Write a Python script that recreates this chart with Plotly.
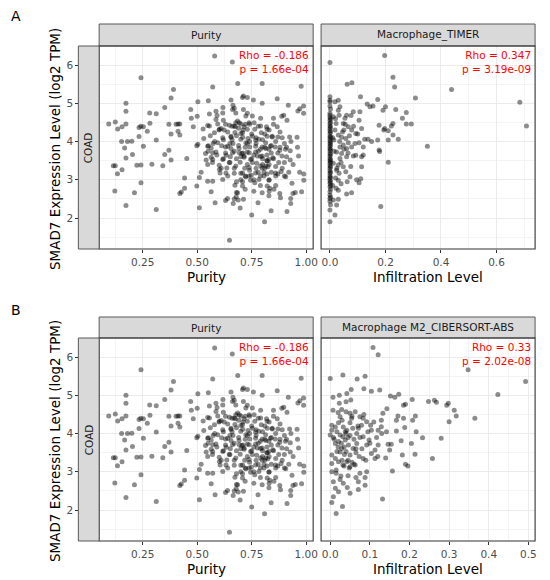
import plotly.graph_objects as go

# the page body has an 8px margin, so the figure is drawn 8px in from the window corner
OFF = 8
W, H = 550 - OFF, 580 - OFF

# ---- data (COAD, SMAD7 log2 TPM) ----
# purity panel (identical in A and B)
purity_x = [0.094, 0.124, 0.135, 0.155, 0.173, 0.173, 0.173, 0.153, 0.18, 0.2, 0.167, 0.203, 0.173,
            0.115, 0.124, 0.134, 0.155, 0.122, 0.173, 0.212, 0.223, 0.242, 0.242, 0.233, 0.233, 0.241,
            0.253, 0.253, 0.242, 0.271, 0.283, 0.282, 0.292, 0.312, 0.312, 0.312, 0.342, 0.351, 0.351,
            0.37, 0.37, 0.38, 0.391, 0.38, 0.38, 0.403, 0.412, 0.42, 0.412, 0.42, 0.42, 0.427, 0.442,
            0.442, 0.452, 0.47, 0.473, 0.482, 0.503, 0.5, 0.503, 0.498, 0.498, 0.51, 0.51, 0.518,
            0.548, 0.551, 0.556, 0.527, 0.53, 0.538, 0.541, 0.548, 0.551, 0.564, 0.579, 0.571, 0.58,
            0.586, 0.591, 0.594, 0.573, 0.564, 0.571, 0.586, 0.548, 0.564, 0.571, 0.582, 0.601, 0.605,
            0.612, 0.617, 0.61, 0.618, 0.62, 0.624, 0.63, 0.633, 0.636, 0.63, 0.639, 0.648, 0.661,
            0.655, 0.664, 0.67, 0.648, 0.655, 0.655, 0.652, 0.664, 0.673, 0.677, 0.685, 0.686, 0.675,
            0.67, 0.673, 0.679, 0.67, 0.68, 0.688, 0.665, 0.708, 0.712, 0.712, 0.7, 0.7, 0.709, 0.692,
            0.705, 0.715, 0.697, 0.718, 0.7, 0.723, 0.708, 0.697, 0.712, 0.715, 0.73, 0.73, 0.738,
            0.733, 0.741, 0.73, 0.745, 0.738, 0.748, 0.745, 0.75, 0.758, 0.753, 0.764, 0.768, 0.768,
            0.773, 0.764, 0.779, 0.791, 0.794, 0.798, 0.798, 0.791, 0.798, 0.806, 0.798, 0.809, 0.818,
            0.821, 0.815, 0.821, 0.824, 0.829, 0.833, 0.829, 0.839, 0.844, 0.847, 0.85, 0.858, 0.867,
            0.867, 0.87, 0.879, 0.879, 0.882, 0.885, 0.888, 0.897, 0.9, 0.906, 0.912, 0.912, 0.918,
            0.924, 0.927, 0.927, 0.929, 0.929, 0.935, 0.939, 0.958, 0.965, 0.962, 0.971, 0.977, 0.979,
            0.988, 0.988, 0.989, 0.989, 0.95,
            0.62, 0.63, 0.64, 0.65, 0.66, 0.67, 0.68, 0.69, 0.70, 0.71, 0.72, 0.72, 0.73, 0.74, 0.74,
            0.75, 0.76, 0.77, 0.77, 0.78, 0.78, 0.79, 0.80, 0.80, 0.81, 0.81, 0.82, 0.82, 0.83, 0.83,
            0.84, 0.84, 0.85, 0.86, 0.86, 0.87, 0.88, 0.89, 0.90, 0.91, 0.92, 0.93, 0.94, 0.96, 0.97,
            0.55, 0.56, 0.57, 0.58, 0.59, 0.60, 0.61, 0.62, 0.63, 0.64, 0.65, 0.66, 0.67, 0.68, 0.69,
            0.70, 0.71, 0.72, 0.73, 0.74, 0.75, 0.76, 0.77, 0.78, 0.79, 0.80, 0.81, 0.82, 0.83, 0.84,
            0.85, 0.86, 0.87, 0.88, 0.89, 0.90, 0.91, 0.79, 0.83, 0.72, 0.68, 0.76, 0.86,
            0.556, 0.586, 0.602, 0.548, 0.571, 0.594, 0.617, 0.640, 0.655, 0.670, 0.693, 0.708, 0.723,
            0.715, 0.738, 0.753, 0.768, 0.783, 0.798, 0.814, 0.829, 0.806, 0.783, 0.768, 0.738, 0.708,
            0.677, 0.647, 0.632, 0.602, 0.617, 0.836, 0.844, 0.821, 0.791, 0.761, 0.730, 0.677, 0.662,
            0.617, 0.859, 0.874, 0.889, 0.905, 0.821, 0.798, 0.852, 0.708, 0.685, 0.723, 0.700, 0.662,
            0.693, 0.753, 0.776, 0.791, 0.829, 0.814]
purity_y = [4.46, 4.51, 4.33, 4.39, 5.0, 4.79, 4.46, 4.0, 4.0, 4.01, 3.83, 3.66, 3.57,
            3.37, 3.37, 3.16, 3.26, 2.71, 2.33, 2.66, 3.38, 3.39, 2.92, 4.13, 4.37, 4.4,
            4.39, 3.88, 5.67, 4.27, 4.48, 4.75, 3.41, 4.73, 4.04, 2.22, 3.37, 4.89, 3.66,
            3.77, 4.45, 5.14, 5.36, 4.2, 3.52, 4.45, 4.46, 4.46, 4.27, 4.17, 2.64, 2.68, 2.78,
            3.05, 3.56, 4.84, 4.61, 4.39, 5.04, 4.66, 3.93, 3.89, 2.84, 3.06, 2.27, 3.2,
            4.42, 5.07, 4.72, 4.33, 4.08, 3.69, 3.52, 3.4, 3.89, 3.83, 4.23, 5.43, 6.24,
            4.79, 4.68, 4.46, 3.95, 3.59, 3.53, 3.73, 2.96, 2.69, 2.96, 2.4, 3.38, 3.18,
            3.89, 4.1, 4.34, 4.89, 4.56, 4.3, 3.86, 3.64, 3.31, 2.46, 2.51, 1.42, 6.08,
            5.09, 4.95, 4.87, 4.43, 4.11, 3.82, 3.6, 3.95, 4.24, 4.49, 4.54, 5.52, 4.39,
            3.17, 2.86, 2.56, 2.5, 2.67, 2.47, 2.38, 5.15, 4.84, 5.19, 4.46, 4.21, 4.11, 3.82,
            3.69, 3.59, 3.46, 3.3, 3.17, 3.08, 2.95, 2.26, 2.49, 4.39, 5.15, 4.74, 4.49,
            4.08, 3.86, 3.73, 3.53, 3.32, 3.12, 2.99, 2.08, 5.09, 4.67, 4.32, 4.04, 3.73,
            3.43, 2.92, 2.4, 4.61, 4.23, 5.52, 3.86, 3.61, 3.3, 3.19, 5.0, 1.9, 4.39,
            4.14, 3.82, 3.5, 3.34, 2.99, 2.78, 2.58, 2.19, 4.12, 3.58, 4.61, 3.86, 5.12,
            4.39, 4.12, 3.77, 2.64, 2.53, 3.22, 4.66, 4.69, 3.45, 3.08, 2.17, 4.56, 4.95,
            4.12, 3.76, 3.52, 2.51, 2.38, 2.91, 2.64, 4.11, 3.62, 4.8, 4.86, 5.45, 2.69,
            4.93, 4.74, 3.15, 2.99, 2.67,
            4.05, 3.70, 4.25, 3.95, 4.40, 3.75, 4.15, 3.90, 3.60, 4.30, 3.85, 4.45, 3.40, 4.00, 3.25,
            4.20, 3.65, 3.95, 3.30, 4.40, 3.75, 3.10, 3.55, 4.05, 3.30, 3.85, 3.15, 3.65, 4.30, 3.40,
            3.90, 3.20, 3.55, 4.00, 3.10, 3.70, 4.25, 3.30, 3.95, 3.60, 3.20, 4.00, 3.40, 3.85, 3.20,
            3.75, 4.15, 3.45, 4.00, 3.65, 4.30, 3.30, 3.55, 4.45, 3.10, 3.45, 4.05, 3.30, 3.55, 4.35,
            3.00, 3.70, 3.10, 3.95, 4.45, 3.55, 3.00, 4.10, 3.20, 3.80, 3.40, 4.20, 3.50, 3.00, 3.70,
            4.45, 3.35, 3.15, 3.85, 4.10, 3.10, 3.85, 2.85, 2.70, 2.75, 2.95, 2.70, 2.85,
            4.41, 4.58, 4.32, 3.88, 3.71, 3.97, 3.53, 3.88, 4.14, 4.41, 4.49, 4.23, 3.97,
            3.62, 3.71, 3.45, 3.88, 4.06, 3.62, 3.36, 3.53, 3.10, 3.01, 3.18, 3.10, 3.18,
            3.36, 3.45, 3.18, 3.27, 3.01, 3.88, 4.14, 4.32, 4.41, 4.49, 4.32, 4.75, 4.84,
            4.75, 3.18, 3.45, 3.62, 3.80, 2.84, 2.66, 2.75, 2.84, 2.66, 4.67, 4.06, 3.71,
            3.71, 4.14, 3.62, 3.36, 3.80, 3.97]

# Macrophage_TIMER panel
timer_x = [0.0] * 41 + [0.002] * 20 + [
    0.197, 0.227, 0.233, 0.438, 0.308, 0.684, 0.708, 0.062, 0.079, 0.11, 0.03, 0.172, 0.134,
    0.144, 0.155, 0.2, 0.191, 0.237, 0.275, 0.261, 0.275, 0.293, 0.227, 0.221, 0.197, 0.194,
    0.177, 0.21, 0.227, 0.246, 0.21, 0.172, 0.177, 0.179, 0.21, 0.351, 0.183, 0.114, 0.125,
    0.137, 0.12, 0.114, 0.114, 0.111, 0.096, 0.105, 0.093, 0.105, 0.093, 0.105, 0.084, 0.076,
    0.108, 0.06, 0.054, 0.048, 0.066, 0.078, 0.036, 0.03, 0.033, 0.022, 0.018, 0.03, 0.042,
    0.057, 0.066, 0.048, 0.036, 0.024, 0.042, 0.06, 0.078, 0.084, 0.06, 0.036, 0.03, 0.048,
    0.024, 0.033, 0.057, 0.072, 0.062, 0.03, 0.022, 0.03, 0.06, 0.078, 0.03, 0.024, 0.018,
    0.012, 0.012, 0.014, 0.012, 0.05, 0.018,
    0.01, 0.015, 0.02, 0.025, 0.035, 0.04, 0.045, 0.05, 0.055, 0.065, 0.07, 0.075, 0.085,
    0.09, 0.1, 0.01, 0.02, 0.04, 0.12, 0.15]
timer_y = [6.07, 5.17, 5.08, 5.04, 4.93, 4.74, 4.69, 4.63, 4.56, 4.47, 4.41, 4.34, 4.28, 4.21,
           4.14, 4.08, 4.02, 3.95, 3.88, 3.82, 3.76, 3.69, 3.62, 3.56, 3.5, 3.43, 3.37, 3.3,
           3.24, 3.17, 3.1, 3.04, 2.98, 2.91, 2.82, 2.69, 2.6, 2.51, 2.44, 2.21, 1.9,
           4.85, 4.6, 4.5, 4.38, 4.25, 4.12, 3.99, 3.91, 3.79, 3.66, 3.53, 3.46, 3.34, 3.2, 3.07,
           2.95, 2.86, 2.75, 2.55, 2.35,
           6.25, 5.68, 5.43, 5.36, 5.14, 5.03, 4.41, 5.5, 5.54, 5.17, 5.08, 5.1, 4.98,
           4.91, 4.93, 4.91, 4.82, 4.84, 4.76, 4.61, 4.46, 4.46, 4.47, 4.41, 4.34, 4.3,
           4.43, 4.28, 4.17, 4.06, 4.04, 4.04, 3.78, 3.74, 3.46, 3.88, 2.3, 4.34, 4.06,
           4.06, 3.86, 3.6, 3.34, 3.03, 3.0, 2.92, 3.64, 3.97, 4.21, 4.56, 4.78, 4.68,
           4.78, 4.69, 4.61, 4.47, 4.39, 4.3, 4.91, 4.82, 4.69, 4.47, 4.3, 4.17, 4.11,
           4.08, 3.97, 3.91, 3.86, 3.73, 3.69, 3.82, 3.86, 3.62, 3.6, 3.56, 3.39, 3.34,
           3.25, 3.17, 3.21, 3.08, 2.95, 2.99, 2.78, 2.73, 2.63, 2.66, 2.49, 2.34, 2.08,
           2.47, 3.43, 4.04, 4.65, 4.3, 5.04,
           4.1, 3.75, 4.6, 3.3, 4.0, 3.45, 4.25, 3.8, 4.45, 3.7, 4.15, 3.35, 4.4,
           3.95, 4.2, 2.85, 3.05, 2.9, 3.65, 4.0]

# Macrophage M2_CIBERSORT-ABS panel
cib_x = [0.108, 0.121, 0.348, 0.493, 0.423, 0.0, 0.032, 0.068, 0.088, 0.053, 0.042, 0.085, 0.104,
         0.125, 0.023, 0.007, 0.152, 0.163, 0.173, 0.207, 0.248, 0.263, 0.268, 0.298, 0.294, 0.313,
         0.318, 0.3, 0.365, 0.28, 0.258, 0.233, 0.215, 0.208, 0.217, 0.205, 0.214, 0.19, 0.196,
         0.182, 0.157, 0.132, 0.14, 0.146, 0.154, 0.15, 0.179, 0.167, 0.185, 0.19, 0.185, 0.171,
         0.188, 0.167, 0.143, 0.133, 0.129, 0.129, 0.142, 0.121, 0.117, 0.121, 0.113, 0.113, 0.104,
         0.092, 0.098, 0.083, 0.104, 0.102, 0.092, 0.083, 0.075, 0.079, 0.071, 0.067, 0.057, 0.05,
         0.05, 0.04, 0.029, 0.023, 0.007, 0.004, 0.004, 0.0, 0.008, 0.013, 0.025, 0.021, 0.033,
         0.042, 0.032, 0.021, 0.038, 0.046, 0.029, 0.017, 0.04, 0.05, 0.058, 0.067, 0.073, 0.083,
         0.004, 0.013, 0.004, 0.021, 0.032, 0.042, 0.05, 0.063, 0.075, 0.092, 0.088, 0.071, 0.088,
         0.071, 0.05, 0.043, 0.033, 0.027, 0.015, 0.004, 0.008, 0.013, 0.021, 0.008, 0.004, 0.031,
         0.015, 0.017, 0.025, 0.013, 0.025, 0.054, 0.063, 0.04, 0.052,
         0.035, 0.045, 0.03, 0.038, 0.028, 0.036, 0.06, 0.055, 0.048, 0.065,
         0.01, 0.02, 0.03, 0.035, 0.045, 0.05, 0.055, 0.06, 0.065, 0.07, 0.075, 0.08, 0.085,
         0.09, 0.095, 0.1, 0.11, 0.12, 0.13, 0.015, 0.025, 0.045, 0.065, 0.02, 0.04]
cib_y = [6.25, 6.06, 5.67, 5.36, 5.02, 5.44, 5.53, 5.43, 5.5, 5.15, 5.05, 5.17, 5.11,
         5.14, 5.0, 4.95, 4.98, 4.95, 5.03, 4.89, 4.84, 4.87, 4.82, 4.79, 4.74, 4.61,
         4.46, 4.31, 4.4, 3.88, 3.35, 3.89, 4.46, 4.35, 4.05, 3.74, 3.46, 3.2, 3.15,
         3.44, 3.02, 2.29, 3.36, 3.72, 3.72, 3.57, 3.81, 4.07, 4.4, 4.77, 4.74, 4.46,
         4.16, 4.35, 4.65, 4.53, 4.35, 4.18, 4.05, 4.09, 3.9, 3.7, 3.57, 3.35, 3.48,
         3.7, 3.83, 3.92, 4.09, 4.22, 4.31, 4.4, 4.44, 4.22, 4.14, 4.0, 4.14, 4.28,
         4.53, 4.57, 4.63, 4.79, 4.61, 4.22, 4.09, 3.96, 3.9, 4.17, 4.44, 4.28, 4.17,
         4.09, 3.92, 3.79, 3.83, 3.7, 3.61, 3.53, 3.53, 3.44, 3.61, 3.74, 3.4, 3.35,
         3.44, 3.35, 3.22, 3.26, 3.18, 3.26, 3.13, 3.18, 2.96, 3.0, 2.85, 2.74, 2.65,
         2.54, 2.44, 2.59, 2.7, 2.89, 2.96, 3.0, 2.74, 2.57, 2.48, 2.35, 2.2, 2.09,
         1.91, 4.05, 3.96, 3.74, 3.52, 4.4, 4.57, 4.83, 4.88,
         3.65, 3.9, 3.3, 4.05, 3.75, 3.45, 3.85, 3.25, 3.1, 3.6,
         3.85, 3.65, 4.35, 3.15, 3.3, 3.95, 4.45, 3.2, 3.5, 4.2, 3.9, 3.6, 4.5,
         3.3, 4.05, 3.75, 4.3, 3.4, 4.0, 3.05, 2.8, 2.9, 2.85, 4.55, 4.0]

strip_labels = ["Purity", "Macrophage_TIMER", "Purity", "Macrophage M2_CIBERSORT-ABS"]
rho_labels = ["Rho = -0.186<br>p = 1.66e-04", "Rho = 0.347<br>p = 3.19e-09",
              "Rho = -0.186<br>p = 1.66e-04", "Rho = 0.33<br>p = 2.02e-08"]

FONT = "DejaVu Sans"


# window pixel -> paper coordinate
def px(v):
    return (v - OFF) / W


def py(v):
    return 1 - (v - OFF) / H


# panel boxes in window pixels: (left, right), (top, bottom)
cols = [(100, 316), (324, 540)]
rows = [(46, 249), (338, 541)]
strip_top = [24, 317]

fig = go.Figure()
datasets = [(purity_x, purity_y), (timer_x, timer_y), (purity_x, purity_y), (cib_x, cib_y)]
for i, (xs, ys) in enumerate(datasets):
    n = "" if i == 0 else str(i + 1)
    fig.add_trace(go.Scatter(x=xs, y=ys, mode="markers", xaxis="x" + n, yaxis="y" + n,
                             marker=dict(size=5, color="rgba(0,0,0,0.45)", line=dict(width=0)),
                             hoverinfo="x+y", showlegend=False))

grid = dict(showgrid=True, gridcolor="#EBEBEB", gridwidth=1.1, zeroline=False,
            tickfont=dict(family=FONT, size=10.5, color="#4D4D4D"))
minor_grid = dict(showgrid=True, gridcolor="#F4F4F4", gridwidth=0.6)

x_specs = [
    dict(range=[0.05, 1.032], dtick=0.25, tick0=0, tickformat=".2f", minor=dict(dtick=0.125, tick0=0, **minor_grid)),
    dict(range=[-0.032, 0.739], dtick=0.2, tick0=0, tickformat=".1f", minor=dict(dtick=0.1, tick0=0, **minor_grid)),
    dict(range=[0.05, 1.032], dtick=0.25, tick0=0, tickformat=".2f", minor=dict(dtick=0.125, tick0=0, **minor_grid)),
    dict(range=[-0.023, 0.517], dtick=0.1, tick0=0, tickformat=".1f", minor=dict(dtick=0.05, tick0=0, **minor_grid)),
]

layout = {}
for i in range(4):
    r, c = divmod(i, 2)
    n = "" if i == 0 else str(i + 1)
    L, R = cols[c]
    T, B = rows[r]
    layout["xaxis" + n] = dict(domain=[px(L), px(R)], anchor="y" + n, ticks="outside", ticklen=3,
                               tickcolor="#333333", **grid, **x_specs[i])
    yax = dict(domain=[py(B), py(T)], range=[1.19, 6.5], dtick=1, tick0=0,
               minor=dict(dtick=0.5, tick0=0, **minor_grid), **grid)
    if c == 0:
        yax.update(anchor="free", position=px(79), ticks="outside", ticklen=3, tickcolor="#333333")
    else:
        yax.update(anchor="x" + n, showticklabels=False, ticks="")
    layout["yaxis" + n] = yax

shapes = []
annotations = []


def label(text, x, y, size, color, **kw):
    d = dict(text=text, x=px(x), y=py(y), xref="paper", yref="paper", showarrow=False,
             xanchor="center", yanchor="middle", font=dict(family=FONT, size=size, color=color))
    d.update(kw)
    annotations.append(d)


for i in range(4):
    r, c = divmod(i, 2)
    L, R = cols[c]
    T, B = rows[r]
    # top strip
    shapes.append(dict(type="rect", xref="paper", yref="paper", x0=px(L), x1=px(R),
                       y0=py(T), y1=py(strip_top[r]), fillcolor="#D9D9D9",
                       line=dict(color="#595959", width=1)))
    label(strip_labels[i], (L + R) / 2, (T + strip_top[r]) / 2, 10.5, "#1A1A1A")
    # panel border
    shapes.append(dict(type="rect", xref="paper", yref="paper", x0=px(L), x1=px(R),
                       y0=py(B), y1=py(T), line=dict(color="#333333", width=1.1)))
    # correlation text
    label(rho_labels[i], R - 2, T + 1, 10.5, "#FF0000", xanchor="right", yanchor="top", align="right")
    # x axis title
    label("Purity" if c == 0 else "Infiltration Level", (L + R) / 2, B + 28, 13.5, "#000000")

for r in range(2):
    T, B = rows[r]
    # COAD strip on the left
    shapes.append(dict(type="rect", xref="paper", yref="paper", x0=px(79), x1=px(100),
                       y0=py(B), y1=py(T), fillcolor="#D9D9D9", line=dict(color="#595959", width=1)))
    label("COAD", 89.5, (T + B) / 2, 10.5, "#1A1A1A", textangle=-90)
    label("SMAD7 Expression Level (log2 TPM)", 55, (T + B) / 2 + 2, 13.5, "#000000", textangle=-90)
    label("AB"[r], 16, 16 if r == 0 else 310, 14, "#000000")

fig.update_layout(width=W, height=H, margin=dict(l=0, r=0, t=0, b=0), autosize=False,
                  paper_bgcolor="white", plot_bgcolor="white", shapes=shapes,
                  annotations=annotations, font=dict(family=FONT), **layout)

fig.write_html("out.html")
